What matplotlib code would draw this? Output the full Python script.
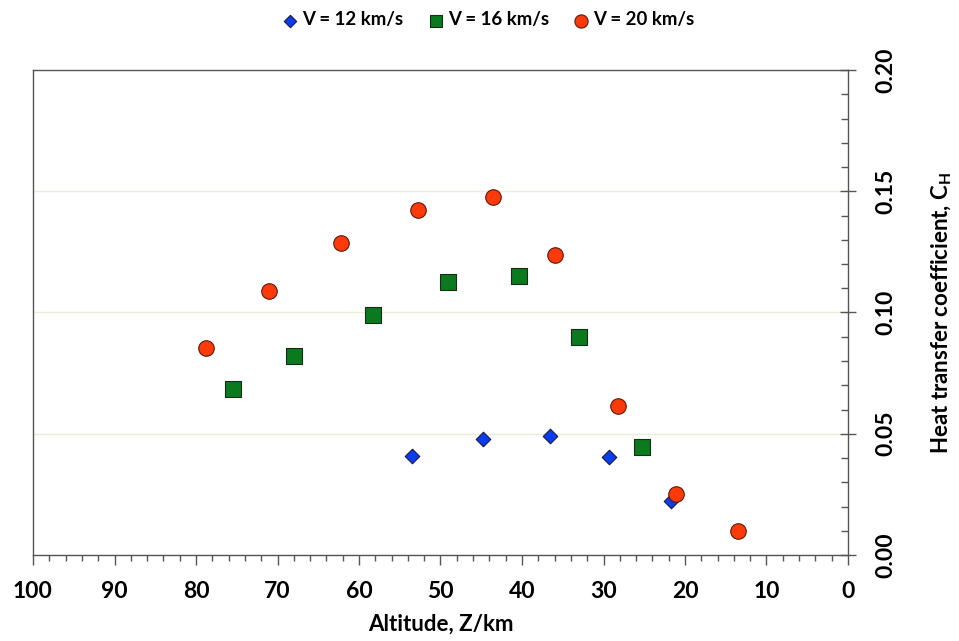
import matplotlib
matplotlib.use("Agg")
import matplotlib.pyplot as plt
from matplotlib.ticker import MultipleLocator, FormatStrFormatter

plt.rcParams['font.family'] = ['Lato', 'DejaVu Sans']
plt.rcParams['font.weight'] = 'bold'

# Data (altitude km, heat transfer coefficient C_H)
alt_12 = [53.5, 44.8, 36.6, 29.3, 21.7]
ch_12 = [0.0408, 0.0478, 0.0491, 0.0404, 0.0223]

alt_16 = [75.5, 68.0, 58.3, 49.1, 40.4, 33.0, 25.3]
ch_16 = [0.0685, 0.0821, 0.0990, 0.1126, 0.1151, 0.0899, 0.0445]

alt_20 = [78.8, 71.0, 62.2, 52.8, 43.6, 36.0, 28.2, 21.1, 13.5]
ch_20 = [0.0854, 0.1089, 0.1287, 0.1423, 0.1476, 0.1237, 0.0614, 0.0252, 0.0099]

labels = ["V = 12 km/s", "V = 16 km/s", "V = 20 km/s"]

fig = plt.figure(figsize=(9.59, 6.41), dpi=100)
ax = fig.add_axes([33/959, (641-555)/641, (848-33)/959, (555-70)/641])

ax.scatter(alt_12, ch_12, marker='D', s=55, color='#0A3CF0', edgecolors='#1a1a40', linewidths=0.8, zorder=3, label=labels[0])
ax.scatter(alt_16, ch_16, marker='s', s=120, color='#0B7A1E', edgecolors='#1a2a1a', linewidths=0.8, zorder=3, label=labels[1])
ax.scatter(alt_20, ch_20, marker='o', s=125, color='#FF3A0A', edgecolors='#5a1a0a', linewidths=0.8, zorder=3, label=labels[2])

ax.set_xlim(100, 0)
ax.set_ylim(0, 0.20)

ax.yaxis.tick_right()
ax.yaxis.set_label_position('right')

ax.xaxis.set_major_locator(MultipleLocator(10))
ax.xaxis.set_minor_locator(MultipleLocator(2))
ax.yaxis.set_major_locator(MultipleLocator(0.05))
ax.yaxis.set_minor_locator(MultipleLocator(0.01))
ax.yaxis.set_major_formatter(FormatStrFormatter('%.2f'))

spine_c = '#555555'
for s in ax.spines.values():
    s.set_color(spine_c)
    s.set_linewidth(1.0)

ax.tick_params(axis='x', which='major', direction='out', length=7, width=1, color=spine_c, labelsize=16.5, pad=12)
ax.tick_params(axis='x', which='minor', direction='out', length=4, width=1, color=spine_c)
ax.tick_params(axis='y', which='major', direction='inout', length=12, width=1, color=spine_c, labelsize=16.5, pad=14)
ax.tick_params(axis='y', which='minor', direction='in', length=5, width=1, color=spine_c)
for lab in ax.get_yticklabels():
    lab.set_rotation(90)
    lab.set_va('center')

ax.grid(axis='y', which='major', color='#EDEDD5', linewidth=1.0, zorder=0)
ax.set_axisbelow(True)

ax.set_xlabel('Altitude, Z/km', fontsize=16, fontweight='bold', labelpad=8)
ax.set_ylabel('Heat transfer coefficient, C$_\\mathregular{H}$', fontsize=16, fontweight='bold', labelpad=24, rotation=90)

leg = fig.legend(loc='center', bbox_to_anchor=(488/959, 1 - 20/641), ncol=3, frameon=False,
                 fontsize=13.4, handlelength=0.9, handletextpad=0.2, columnspacing=1.3, markerscale=0.85)

fig.savefig('out.png', dpi=100)
